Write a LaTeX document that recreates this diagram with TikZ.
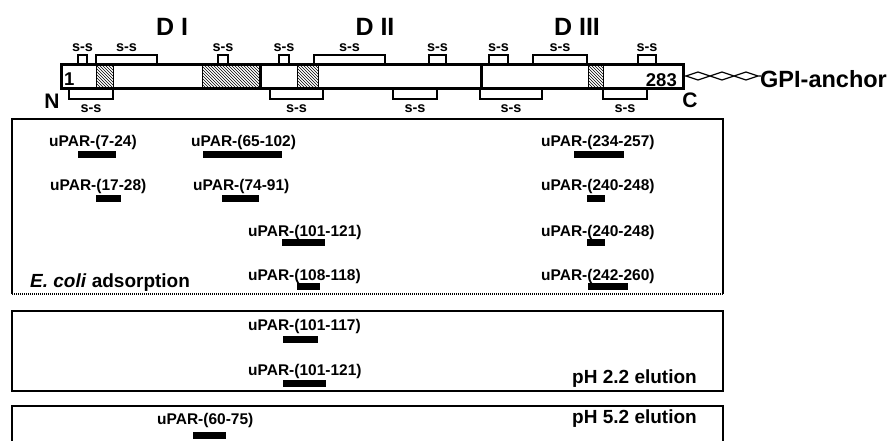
\documentclass[tikz,border=0pt]{standalone}
\usepackage{fontspec}
\setmainfont{Liberation Sans}
\usetikzlibrary{patterns}
\begin{document}
\begin{tikzpicture}[x=1pt,y=-1pt,
  ss/.style={font=\bfseries\fontsize{14.5}{16}\selectfont, inner sep=0pt, anchor=base},
  pep/.style={font=\bfseries\fontsize{15.5}{17}\selectfont, inner sep=0pt, anchor=base west},
  dom/.style={font=\bfseries\fontsize{25}{28}\selectfont, inner sep=0pt, anchor=base},
  term/.style={font=\bfseries\fontsize{21}{24}\selectfont, inner sep=0pt, anchor=base},
  num/.style={font=\bfseries\fontsize{18.5}{20}\selectfont, inner sep=0pt},
  cond/.style={font=\bfseries\fontsize{19}{22}\selectfont, inner sep=0pt},
  brk/.style={line width=1.2pt},
  hatch/.style={pattern=north west lines},
  pbar/.style={fill=black},
  panel/.style={draw=black, line width=1.5pt}]
\useasboundingbox (0,0) rectangle (887,440);
% domain titles
\node[dom] (d1) at (172,35) {D I};
\node[dom] (d2) at (375,35) {D II};
\node[dom] (d3) at (577,35) {D III};
% hatched regions
\fill[hatch] (96,64) rectangle (113,88);
\fill[hatch] (202,64) rectangle (259,88);
\fill[hatch] (297,64) rectangle (318,88);
\fill[hatch] (588,64) rectangle (603,88);
\draw[black, line width=0.5pt] (96,64) -- (96,88) (113,64) -- (113,88) (202,64) -- (202,88) (297,64) -- (297,88) (318,64) -- (318,88) (588,64) -- (588,88) (603,64) -- (603,88);
% main bar
\draw[line width=3pt] (61,64) rectangle (683,88);
\draw[line width=3pt] (260,64) -- (260,88) (481,64) -- (481,88);
% top s-s brackets
\foreach \a/\b [count=\i] in {78/87, 96/157, 218/228, 279/289, 314/385, 429/446, 489/508, 533/587, 638/656} {
  \draw[brk] (\a,64.5) |- (\b,55) -- (\b,64.5);
  \node[ss] (ts\i) at ({(\a+\b)/2},51) {s-s};
}
% bottom s-s brackets
\foreach \a/\b [count=\i] in {69/113, 270/323, 393/437, 480/542, 603/647} {
  \draw[brk] (\a,87.5) |- (\b,99) -- (\b,87.5);
  \node[ss] (bs\i) at ({(\a+\b)/2},112) {s-s};
}
% termini
\node[num, anchor=base west] (n1) at (64,85) {1};
\node[num, anchor=base east] (n283) at (677,86) {283};
\node[term] (nN) at (52,108) {N};
\node[term] (nC) at (690,107) {C};
% GPI anchor chain
\draw[line width=1.2pt] (684,76) -- (686,76)
  -- (698,72) -- (710,76) -- (698,80) -- (686,76)
  (710,76) -- (722,72) -- (734,76) -- (722,80) -- (710,76)
  (734,76) -- (746,72) -- (758,76) -- (746,80) -- (734,76)
  (758,76) -- (761,76);
\node[font=\bfseries\fontsize{23.5}{26}\selectfont, inner sep=0pt, anchor=base west] (gpi) at (760,87) {GPI-anchor};
% panel 1
\draw[panel] (12,294) -- (12,119) -- (723,119) -- (723,294);
\draw[line width=1.6pt, dash pattern=on 1pt off 1pt] (12,294) -- (723,294);
\node[pep] (p1) at (49,146) {uPAR-(7-24)};
\fill[pbar] (78,151) rectangle (116,158);
\node[pep] (p2) at (191,146) {uPAR-(65-102)};
\fill[pbar] (203,151) rectangle (282,158);
\node[pep] (p3) at (50,190) {uPAR-(17-28)};
\fill[pbar] (96,195) rectangle (121,202);
\node[pep] (p4) at (193,190) {uPAR-(74-91)};
\fill[pbar] (222,195) rectangle (259,202);
\node[pep] (p5) at (248,236) {uPAR-(101-121)};
\fill[pbar] (282,239) rectangle (325,246);
\node[pep] (p6) at (248,280) {uPAR-(108-118)};
\fill[pbar] (297,283) rectangle (320,290);
\node[pep] (p7) at (541,146) {uPAR-(234-257)};
\fill[pbar] (574,151) rectangle (624,158);
\node[pep] (p8) at (541,190) {uPAR-(240-248)};
\fill[pbar] (587,195) rectangle (605,202);
\node[pep] (p9) at (541,236) {uPAR-(240-248)};
\fill[pbar] (587,239) rectangle (605,246);
\node[pep] (p10) at (541,280) {uPAR-(242-260)};
\fill[pbar] (588,283) rectangle (628,290);
\node[cond, anchor=base west] (ecoli) at (30,287) {\textit{E. coli} adsorption};
% panel 2
\draw[panel] (12,311) rectangle (723,391);
\node[pep] (q1) at (248,330) {uPAR-(101-117)};
\fill[pbar] (283,336) rectangle (318,343);
\node[pep] (q2) at (248,375) {uPAR-(101-121)};
\fill[pbar] (283,380) rectangle (326,387);
\node[cond, anchor=base east] (ph22) at (697,383) {pH 2.2 elution};
% panel 3
\draw[panel] (12,445) -- (12,406) -- (723,406) -- (723,445);
\node[pep] (r1) at (157,424) {uPAR-(60-75)};
\fill[pbar] (193,432) rectangle (226,439);
\node[cond, anchor=base east] (ph52) at (697,423) {pH 5.2 elution};
\end{tikzpicture}
\end{document}
